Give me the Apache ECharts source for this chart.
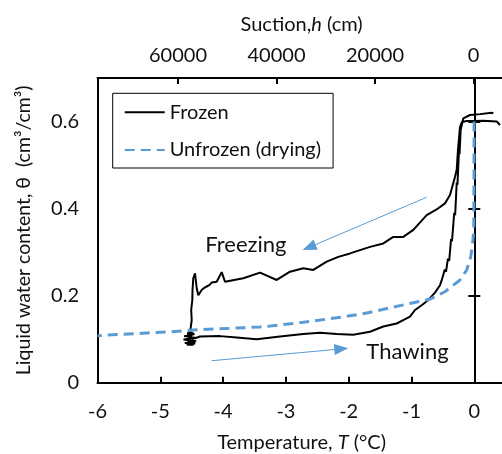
<!DOCTYPE html>
<html>
<head>
<meta charset="utf-8">
<script src="https://cdn.jsdelivr.net/npm/echarts@6/dist/echarts.min.js"></script>
<style>
html,body{margin:0;padding:0;background:#fff;}
#chart{width:502px;height:454px;}
</style>
</head>
<body>
<div id="chart"></div>
<script>
// ---- tick values ----
var tempTicks = [-6, -5, -4, -3, -2, -1, 0];
var suctionTicks = [0, 20000, 40000, 60000];
var thetaTicks = [0, 0.2, 0.4, 0.6];

// ---- Frozen: freezing branch (right -> left) ----
var frozenFreezing = [
  [0.41,0.592],[0.357,0.600],[0.143,0.602],[-0.016,0.601],[-0.121,0.601],[-0.196,0.599],
  [-0.228,0.587],[-0.26,0.535],[-0.28,0.489],[-0.307,0.473],[-0.387,0.431],[-0.467,0.412],
  [-0.6,0.398],[-0.758,0.385],[-0.971,0.351],[-1.131,0.335],[-1.29,0.335],[-1.449,0.320],
  [-1.661,0.312],[-1.979,0.297],[-2.166,0.289],[-2.350,0.278],[-2.564,0.259],[-2.723,0.263],
  [-2.935,0.255],[-3.146,0.236],[-3.412,0.253],[-3.678,0.240],[-3.970,0.232],[-4.022,0.254],
  [-4.102,0.232],[-4.182,0.230],[-4.22,0.224],[-4.261,0.221],[-4.30,0.218],[-4.341,0.213],
  [-4.395,0.201],[-4.420,0.217],[-4.447,0.251],[-4.475,0.240],[-4.487,0.213],[-4.49,0.19],
  [-4.508,0.167],[-4.50,0.144],[-4.516,0.126],[-4.527,0.112]
];
// ---- Frozen: noisy cluster at the coldest point ----
var frozenCluster = [
  [-4.57,0.087],[-4.49,0.087],[-4.45,0.091],[-4.61,0.091],[-4.63,0.095],[-4.43,0.095],
  [-4.43,0.099],[-4.63,0.099],[-4.63,0.103],[-4.43,0.103],[-4.44,0.107],[-4.62,0.107],
  [-4.60,0.111],[-4.46,0.111],[-4.50,0.115],[-4.56,0.115],[-4.53,0.085],[-4.53,0.117],
  [-4.50,0.101],[-4.45,0.102]
];
// ---- Frozen: thawing branch (left -> right) ----
var frozenThawing = [
  [-4.368,0.106],[-4.050,0.107],[-3.783,0.104],[-3.465,0.100],[-3.094,0.106],[-2.723,0.112],
  [-2.457,0.115],[-2.191,0.112],[-1.927,0.110],[-1.661,0.117],[-1.449,0.129],[-1.236,0.136],
  [-1.131,0.144],[-1.024,0.152],[-0.944,0.167],[-0.838,0.178],[-0.732,0.190],[-0.626,0.207],
  [-0.546,0.224],[-0.52,0.235],[-0.50,0.232],[-0.47,0.26],[-0.45,0.255],[-0.42,0.285],
  [-0.40,0.28],[-0.37,0.33],[-0.355,0.325],[-0.32,0.39],[-0.305,0.385],[-0.28,0.46],
  [-0.268,0.455],[-0.245,0.53],[-0.235,0.525],[-0.217,0.581],[-0.175,0.607],[-0.068,0.615],
  [0.091,0.617],[0.277,0.620],[0.303,0.619]
];
// ---- Unfrozen (drying) ----
var unfrozen = [
  [-0.003,0.600],[-0.005,0.45],[-0.008,0.36],[-0.015,0.34],[-0.030,0.315],[-0.057,0.289],
  [-0.121,0.259],[-0.228,0.236],[-0.467,0.209],[-0.705,0.192],[-0.865,0.187],[-1.183,0.177],
  [-1.713,0.160],[-2.191,0.149],[-2.775,0.138],[-3.253,0.130],[-3.412,0.128],[-4.475,0.121],
  [-4.845,0.117],[-5.88,0.109],[-6.0,0.108]
];
// ---- annotations ----
var freezingArrow = [[-0.758,0.426],[-2.630,0.311]];
var thawingArrow = [[-4.182,0.0505],[-2.118,0.0776]];
var annotText = ['Freezing', 'Thawing'];
var annotPos = [[-3.638,0.3163],[-1.064,0.0705]];

var FONT = 'Lato';
var TXT = '#111';
var FS = 20;

var chart = echarts.init(document.getElementById('chart'));
var option = {
  animation: false,
  backgroundColor: '#fff',
  textStyle: {fontFamily: FONT},
  grid: {left: 97.5, right: -3.7, top: 78, bottom: 71.3, containLabel: false, outerBoundsMode: 'none'},
  legend: {
    data: ['Frozen', 'Unfrozen (drying)'],
    orient: 'vertical',
    left: 112.7, top: 93.3,
    itemWidth: 40, itemHeight: 20, itemGap: 17.7,
    borderColor: '#000', borderWidth: 1,
    padding: [9, 12, 8, 11],
    itemStyle: {opacity: 0},
    textStyle: {fontFamily: FONT, fontSize: 20, color: TXT, lineHeight: 20}
  },
  xAxis: [{
    type: 'value', position: 'bottom', min: -6, max: 0.5,
    axisLine: {onZero: false, lineStyle: {color: '#000', width: 2}},
    axisTick: {inside: true, length: 6, customValues: tempTicks, lineStyle: {color: '#000', width: 2}},
    axisLabel: {customValues: tempTicks, margin: 19, fontSize: FS, color: TXT, fontFamily: FONT},
    splitLine: {show: false},
    name: 'Temperature, {i|T} (°C)', nameLocation: 'middle', nameGap: 50,
    nameTextStyle: {fontSize: FS, color: TXT, fontFamily: FONT,
      rich: {i: {fontStyle: 'italic', fontSize: FS, color: TXT, fontFamily: FONT}}}
  }, {
    type: 'value', position: 'top', inverse: true, min: -6538, max: 76345,
    axisLine: {onZero: false, lineStyle: {color: '#000', width: 2}},
    axisTick: {inside: true, length: 6, customValues: suctionTicks, lineStyle: {color: '#000', width: 2}},
    axisLabel: {customValues: suctionTicks, margin: 12, fontSize: FS, color: TXT, fontFamily: FONT,
      formatter: function (v) { return String(Math.round(v)); }},
    splitLine: {show: false},
    name: 'Suction,{i|h} (cm)', nameLocation: 'middle', nameGap: 43,
    nameTextStyle: {fontSize: FS, color: TXT, fontFamily: FONT,
      rich: {i: {fontStyle: 'italic', fontSize: FS, color: TXT, fontFamily: FONT}}}
  }],
  yAxis: [{
    type: 'value', position: 'left', min: 0, max: 0.7,
    axisLine: {show: true, onZero: false, lineStyle: {color: '#000', width: 2}},
    axisTick: {show: false},
    axisLabel: {customValues: thetaTicks, margin: 18.5, fontSize: FS, color: TXT, fontFamily: FONT,
      formatter: function (v) { return v === 0 ? '0' : v.toFixed(1); }},
    splitLine: {show: false},
    name: 'Liquid water content, θ  (cm³/cm³)', nameLocation: 'middle', nameGap: 64, nameRotate: 90,
    nameTextStyle: {fontSize: 19.5, color: TXT, fontFamily: FONT}
  }, {
    type: 'value', position: 'left', min: 0, max: 0.7,
    axisLine: {show: true, onZero: true, onZeroAxisIndex: 0, lineStyle: {color: '#000', width: 2}},
    axisTick: {show: true, inside: true, length: 6, customValues: [0.2, 0.4, 0.6], lineStyle: {color: '#000', width: 2}},
    axisLabel: {show: false},
    splitLine: {show: false}
  }, {
    type: 'value', position: 'left', min: 0, max: 0.7,
    axisLine: {show: false, onZero: true, onZeroAxisIndex: 0},
    axisTick: {show: true, inside: false, length: 6, customValues: [0.2, 0.4, 0.6], lineStyle: {color: '#000', width: 2}},
    axisLabel: {show: false},
    splitLine: {show: false}
  }],
  series: [{
    name: 'Frozen', type: 'line', xAxisIndex: 0, yAxisIndex: 0,
    data: frozenFreezing.concat(frozenCluster, frozenThawing),
    showSymbol: false, symbol: 'none', smooth: false,
    lineStyle: {color: '#000', width: 2}, itemStyle: {color: '#000'}, z: 3
  }, {
    name: 'Unfrozen (drying)', type: 'line', xAxisIndex: 0, yAxisIndex: 0,
    data: unfrozen, showSymbol: false, symbol: 'none', smooth: false,
    lineStyle: {color: '#5B9BD5', width: 3, type: [10, 6]}, itemStyle: {color: '#5B9BD5'}, z: 4,
    markLine: {
      silent: true, symbol: ['none', 'triangle'], symbolSize: [11, 14],
      lineStyle: {color: '#5B9BD5', width: 1, type: 'solid'},
      itemStyle: {color: '#5B9BD5'},
      label: {show: false},
      data: [
        [{coord: freezingArrow[0]}, {coord: freezingArrow[1]}],
        [{coord: thawingArrow[0]}, {coord: thawingArrow[1]}]
      ]
    },
    markPoint: {
      symbol: 'circle', symbolSize: 0,
      label: {show: true, position: 'inside', fontSize: 22, color: TXT, fontFamily: FONT,
        formatter: function (p) { return p.name; }},
      data: annotText.map(function (t, i) { return {name: t, coord: annotPos[i]}; })
    }
  }]
};
chart.setOption(option);
</script>
</body>
</html>
